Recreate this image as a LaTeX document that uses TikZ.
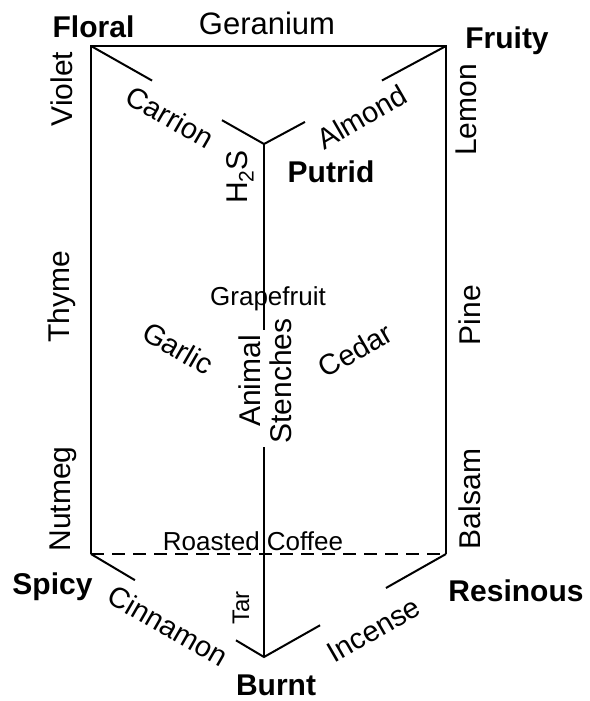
\documentclass[tikz,border=0pt]{standalone}
\usepackage{fontspec}
\setmainfont{Liberation Sans}
\usetikzlibrary{calc}
\begin{document}
\begin{tikzpicture}[x=1pt,y=-1pt,
  edge/.style={line width=2pt},
  lbl/.style={inner sep=0pt, font=\fontsize{30}{30}\selectfont},
  smalllbl/.style={inner sep=0pt, font=\fontsize{26}{26}\selectfont},
  corner/.style={inner sep=0pt, font=\fontsize{30}{30}\selectfont\bfseries},
  vert/.style={lbl, rotate=90},
  diag/.style={inner sep=0pt, font=\fontsize{29}{29}\selectfont}]
\useasboundingbox (0,0) rectangle (589,701);
% vertices
\coordinate (F) at (91,46);
\coordinate (Fr) at (446,46);
\coordinate (P) at (264,144);
\coordinate (S) at (91,554);
\coordinate (Re) at (446,554);
\coordinate (B) at (264,657);
% frame
\draw[edge] (S) -- (F) -- (Fr) -- (Re);
\draw[edge, dash pattern=on 13pt off 8pt] (S) -- (Re);
% top diagonals
\draw[edge] (F) -- ($(F)!0.353!(P)$);
\draw[edge] ($(F)!0.757!(P)$) -- (P) -- ($(P)!0.225!(Fr)$);
\draw[edge] (Fr) -- ($(Fr)!0.352!(P)$);
% centre vertical
\draw[edge] (P) -- ($(P)!0.363!(B)$);
\draw[edge] ($(P)!0.591!(B)$) -- (B);
% bottom diagonals
\draw[edge] (S) -- ($(S)!0.254!(B)$);
\draw[edge] ($(S)!0.838!(B)$) -- (B) -- ($(B)!0.308!(Re)$);
\draw[edge] (Re) -- ($(Re)!0.33!(B)$);
% corner labels
\node[corner] (floral) at (93.5,26.5) {Floral};
\node[corner] (fruity) at (507,40.5) {Fruity};
\node[corner] (putrid) at (331,171.5) {Putrid};
\node[corner] (spicy) at (52.5,586.5) {Spicy};
\node[corner] (resinous) at (516,591) {Resinous};
\node[corner] (burnt) at (276,685) {Burnt};
% horizontal labels
\node[inner sep=0pt, font=\fontsize{31}{31}\selectfont] (geranium) at (267,23) {Geranium};
\node[smalllbl] (grapefruit) at (268,298.5) {Grapefruit};
\node[smalllbl] (coffee) at (253,541) {Roasted Coffee};
% vertical labels
\node[vert] (violet) at (62,89) {Violet};
\node[vert] (thyme) at (62,297) {Thyme};
\node[vert] (nutmeg) at (63,499) {Nutmeg};
\node[vert] (lemon) at (466,110) {Lemon};
\node[vert] (pine) at (470,315) {Pine};
\node[vert] (balsam) at (470,499) {Balsam};
\node[vert] (h2s) at (240,177) {H\textsubscript{2}S};
\node[vert] (animal) at (250,381) {Animal};
\node[vert] (stenches) at (281,381) {Stenches};
\node[inner sep=0pt, font=\fontsize{24}{24}\selectfont, rotate=90] (tar) at (241,608) {Tar};
% diagonal labels
\node[diag, rotate=-30] (carrion) at (170,117) {Carrion};
\node[diag, rotate=30] (almond) at (362,117) {Almond};
\node[diag, rotate=-30] (garlic) at (178,348) {Garlic};
\node[diag, rotate=30] (cedar) at (355,350) {Cedar};
\node[diag, rotate=-30] (cinnamon) at (168,626) {Cinnamon};
\node[diag, rotate=30] (incense) at (374,630) {Incense};
\end{tikzpicture}
\end{document}
